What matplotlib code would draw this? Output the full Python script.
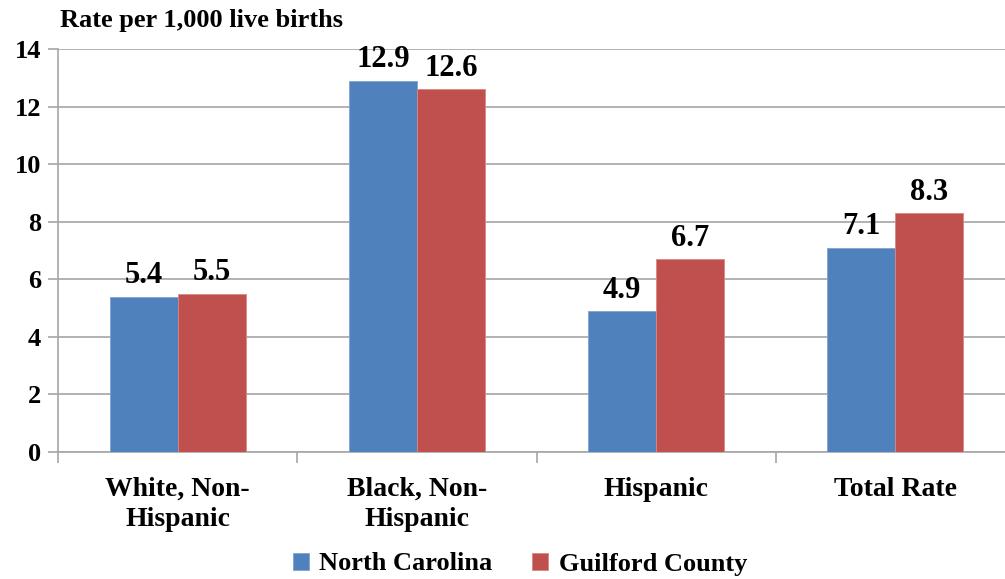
import matplotlib.pyplot as plt
import numpy as np

categories = ['White, Non-\nHispanic', 'Black, Non-\nHispanic', 'Hispanic', 'Total Rate']
north_carolina = [5.4, 12.9, 4.9, 7.1]
guilford_county = [5.5, 12.6, 6.7, 8.3]
series_names = ['North Carolina', 'Guilford County']

plt.rcParams['font.family'] = ['Liberation Serif', 'DejaVu Serif']
plt.rcParams['font.weight'] = 'bold'

blue = '#4F81BD'
red = '#C0504D'
grid_col = '#A6A6A6'

fig = plt.figure(figsize=(10.05, 5.79), dpi=100)
# axes runs a little past the right edge of the figure like the original
ax = fig.add_axes([58 / 1005, 127 / 579, (1015 - 58) / 1005, 403 / 579])

x = np.arange(len(categories))
w = 0.284
b1 = ax.bar(x - w / 2, north_carolina, w, color=blue, edgecolor='#7FA3D0', linewidth=0.6, label=series_names[0], zorder=3)
b2 = ax.bar(x + w / 2, guilford_county, w, color=red, edgecolor='#D88884', linewidth=0.6, label=series_names[1], zorder=3)

for bars, vals in [(b1, north_carolina), (b2, guilford_county)]:
    for r, v in zip(bars, vals):
        ax.text(r.get_x() + r.get_width() / 2, v + 0.22, '{:.1f}'.format(v),
                ha='center', va='bottom', fontsize=22, fontweight='bold')

ax.set_xlim(-0.5, 3.5)
ax.set_ylim(0, 14)
ax.set_yticks(range(0, 15, 2))
ax.yaxis.grid(True, color=grid_col, linewidth=1.2, zorder=0)
ax.set_axisbelow(True)

for s in ['top', 'right']:
    ax.spines[s].set_visible(False)
ax.spines['left'].set_color(grid_col)
ax.spines['left'].set_linewidth(1.2)
ax.spines['bottom'].set_color(grid_col)
ax.spines['bottom'].set_linewidth(1.2)

ax.tick_params(axis='y', length=7, width=1.2, color=grid_col, labelsize=19, pad=5)
ax.set_xticks(x)
ax.set_xticklabels(categories, fontsize=20, linespacing=1.25)
ax.tick_params(axis='x', length=0, pad=18)
ax.set_xticks(np.arange(-0.5, 4.0, 1.0), minor=True)
ax.tick_params(axis='x', which='minor', length=8, width=1.2, color=grid_col)

fig.text(60 / 1005, 1 - 21 / 579, 'Rate per 1,000 live births', fontsize=19,
         fontweight='bold', va='center', ha='left')

fig.legend(loc='center', bbox_to_anchor=(520 / 1005, 1 - 564 / 579), ncol=2, frameon=False,
           fontsize=19, handlelength=0.6, handleheight=0.6, handletextpad=0.4, columnspacing=1.5)

fig.savefig('out.png', dpi=100)
